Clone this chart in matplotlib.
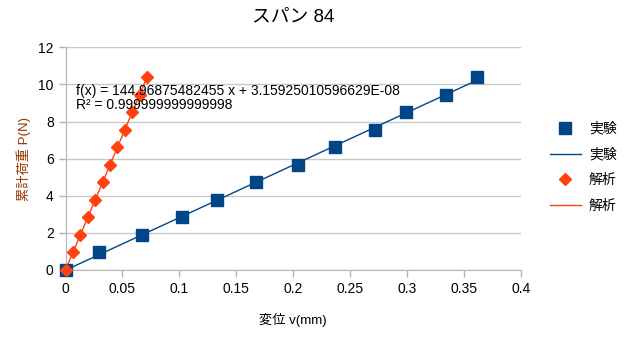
import numpy as np
import matplotlib
matplotlib.use("Agg")
import matplotlib.pyplot as plt
from matplotlib.lines import Line2D

plt.rcParams['font.family'] = ['Liberation Sans', 'Noto Sans CJK JP', 'DejaVu Sans']

# Cumulative load steps (N)
load = [0.0, 0.945, 1.89, 2.835, 3.78, 4.725, 5.67, 6.615, 7.56, 8.505, 9.45, 10.395]
# Measured deflection (mm)
disp_exp = [0.0, 0.0294, 0.0672, 0.1024, 0.1329, 0.1672, 0.2047, 0.2367,
            0.2721, 0.2991, 0.3343, 0.3615]
# Analytical stiffness (N/mm)
k_ana = 144.96875482455
disp_ana = [p / k_ana for p in load]

title = "スパン 84"
xlabel = "変位 v(mm)"
ylabel = "累計荷重 P(N)"
series_names = ["実験", "解析"]
eq_text = "f(x) = 144.96875482455 x + 3.15925010596629E-08\nR² = 0.999999999999998"

blue = "#004586"
orange = "#ff420e"

fig = plt.figure(figsize=(6.25, 3.38), dpi=100)
ax = fig.add_axes([0.1048, 0.2012, 0.7282, 0.6588])

# Linear trend lines
xe = np.array(disp_exp)
ye = np.array(load)
ce = np.polyfit(xe, ye, 1)
xa = np.array(disp_ana)
ca = np.polyfit(xa, ye, 1)
xl = np.array([xe.min(), xe.max()])
ax.plot(xl, np.polyval(ce, xl), color=blue, lw=1.0, zorder=2)
xl2 = np.array([xa.min(), xa.max()])
ax.plot(xl2, np.polyval(ca, xl2), color=orange, lw=1.0, zorder=2)

ax.plot(disp_exp, load, linestyle='none', marker='s', ms=8.5, color=blue,
        zorder=3, clip_on=False)
ax.plot(disp_ana, load, linestyle='none', marker='D', ms=6.5, color=orange,
        zorder=3, clip_on=False)

ax.set_xlim(0, 0.4)
ax.set_ylim(0, 12)
ax.set_xticks(np.arange(0, 0.41, 0.05))
ax.set_xticklabels(["0", "0.05", "0.1", "0.15", "0.2", "0.25", "0.3", "0.35", "0.4"])
ax.set_yticks(range(0, 13, 2))
ax.yaxis.grid(True, color="#c8c8c8", lw=1.0)
ax.set_axisbelow(True)
for s in ["top", "right"]:
    ax.spines[s].set_visible(False)
for s in ["left", "bottom"]:
    ax.spines[s].set_color("#b3b3b3")
ax.tick_params(axis='both', colors="#b3b3b3", labelcolor="black", labelsize=10, length=5, width=1)
ax.tick_params(axis='x', pad=4)

ax.set_title(title, fontsize=13.5, pad=18.5)
ax.set_xlabel(xlabel, fontsize=9.5, labelpad=12)
ax.set_ylabel(ylabel, fontsize=9.5, color="#993300", labelpad=5)

ax.text(0.0096, 10.03, eq_text, fontsize=10, va='top', ha='left', linespacing=1.05,
        zorder=4)

handles = [
    Line2D([], [], linestyle='none', marker='s', ms=8, color=blue),
    Line2D([], [], color=blue, lw=1.0),
    Line2D([], [], linestyle='none', marker='D', ms=6, color=orange),
    Line2D([], [], color=orange, lw=1.0),
]
labels = [series_names[0], series_names[0], series_names[1], series_names[1]]
fig.legend(handles, labels, loc='center left', bbox_to_anchor=(0.86, 0.505),
           frameon=False, fontsize=10, handlelength=2.2, labelspacing=0.85,
           handletextpad=0.6)

fig.savefig("out.png", dpi=100)
